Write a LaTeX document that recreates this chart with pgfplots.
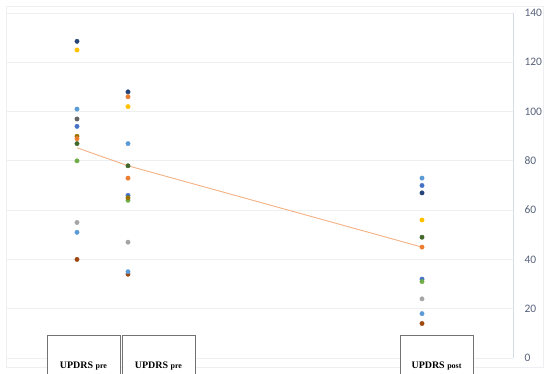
\documentclass[border=0pt]{standalone}
\usepackage{pgfplots}
\pgfplotsset{compat=1.18}
\usepackage{fontspec}
\setmainfont{Carlito}
\newfontfamily\tnr{Liberation Serif}
\definecolor{cnavy}{HTML}{264478}
\definecolor{cyellow}{HTML}{FFC000}
\definecolor{clblue}{HTML}{5B9BD5}
\definecolor{cdgray}{HTML}{636363}
\definecolor{cblue}{HTML}{4472C4}
\definecolor{cgold}{HTML}{997300}
\definecolor{corange}{HTML}{ED7D31}
\definecolor{cdgreen}{HTML}{43682B}
\definecolor{cgreen}{HTML}{70AD47}
\definecolor{cgray}{HTML}{A5A5A5}
\definecolor{cbrown}{HTML}{9E480E}
\definecolor{cline}{HTML}{F4B183}
\definecolor{gridc}{HTML}{EDEFF3}
\definecolor{axc}{HTML}{D6DCE5}
\definecolor{tickc}{HTML}{56627A}
\begin{document}
\begin{tikzpicture}
\path[use as bounding box] (0,0) rectangle (550bp,374bp);
\draw[gridc, line width=0.6bp] (6bp,7bp) rectangle (543bp,368bp);
\begin{axis}[
  at={(7bp,16bp)}, anchor=south west,
  scale only axis, width=506bp, height=345bp,
  xmin=7, xmax=513, ymin=0, ymax=140,
  ytick={0,20,...,140},
  xtick=\empty,
  axis x line=none,
  axis y line*=right,
  y axis line style={draw=axc, line width=0.8bp},
  ytick style={draw=none},
  ymajorgrids,
  grid style={gridc, line width=0.8bp},
  yticklabel style={font=\fontsize{11.5}{13}\selectfont, text=tickc, anchor=west, xshift=8bp},
  /pgf/number format/assume math mode=true,
  clip=false,
  every axis plot/.append style={only marks, mark=*, mark size=2.2bp},
]
\addplot[cline, line width=0.9bp, no markers, sharp plot] coordinates {(77,85.3) (128,78) (422,45)};
\addplot[cgray, mark options={fill=cgray, draw=cgray}] coordinates {(77,55) (128,47) (422,24)};
\addplot[cbrown, mark options={fill=cbrown, draw=cbrown}] coordinates {(77,40) (128,34) (422,14)};
\addplot[clblue, mark options={fill=clblue, draw=clblue}] coordinates {(77,101) (77,51) (128,87) (128,35) (422,73) (422,18)};
\addplot[cblue, mark options={fill=cblue, draw=cblue}] coordinates {(77,94) (128,66) (422,70) (422,32)};
\addplot[cgreen, mark options={fill=cgreen, draw=cgreen}] coordinates {(77,80) (128,64) (422,31)};
\addplot[cgold, mark options={fill=cgold, draw=cgold}] coordinates {(77,90) (128,65)};
\addplot[corange, mark options={fill=corange, draw=corange}] coordinates {(77,89) (128,106) (128,73) (422,45)};
\addplot[cdgray, mark options={fill=cdgray, draw=cdgray}] coordinates {(77,97)};
\addplot[cdgreen, mark options={fill=cdgreen, draw=cdgreen}] coordinates {(77,87) (128,78) (422,49)};
\addplot[cyellow, mark options={fill=cyellow, draw=cyellow}] coordinates {(77,125) (128,102) (422,56)};
\addplot[cnavy, mark options={fill=cnavy, draw=cnavy}] coordinates {(77,128.5) (128,108) (422,67)};
\end{axis}
\foreach \xa/\lab in {47/pre, 122/pre, 400/post}{
  \draw[fill=white, draw=black!55, line width=0.7bp] (\xa bp,-4bp) rectangle ++(73bp,43bp);
  \node[anchor=base, inner sep=0pt] at (\xa bp+36.5bp, 6bp) {\tnr\fontsize{10}{12}\selectfont\bfseries UPDRS {\fontsize{8}{10}\selectfont\lab}};
}
\end{tikzpicture}
\end{document}
